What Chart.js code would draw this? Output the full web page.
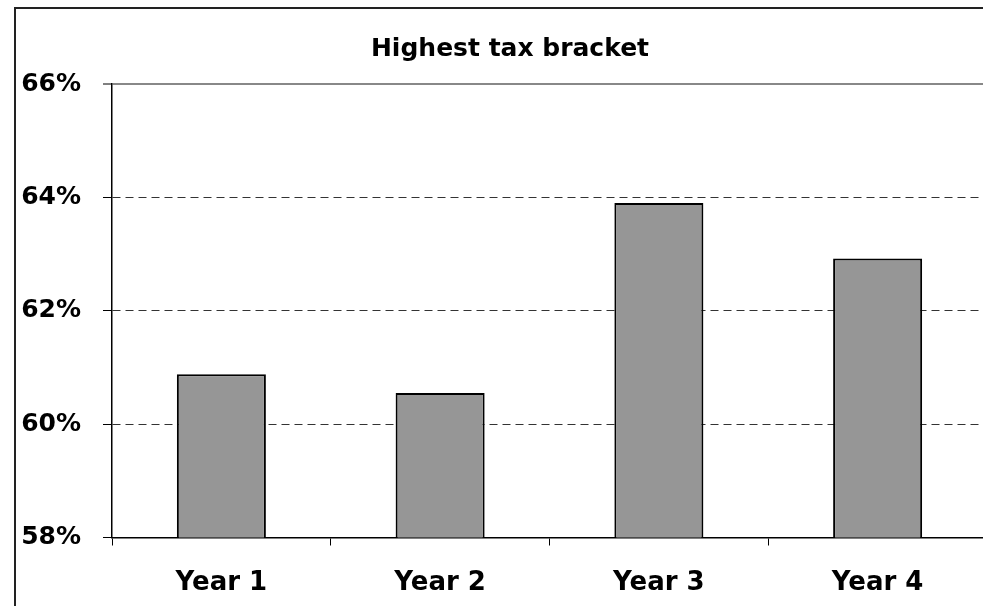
<!DOCTYPE html>
<html>
<head>
<meta charset="utf-8">
<script src="https://cdn.jsdelivr.net/npm/chart.js@4/dist/chart.umd.min.js"></script>
<style>
    html, body { margin: 0; padding: 0; background: #fff; overflow: hidden; }
    #wrap { position: absolute; left: 0; top: 0; width: 1020px; height: 606px; }
    #frame { position: absolute; left: 14px; top: 7px; width: 1100px; height: 700px;
             border-left: 2px solid #222; border-top: 2px solid #222; }
</style>
</head>
<body>
<div id="wrap"><canvas id="ourChart"></canvas></div>
<div id="frame"></div>
<script>
let labelsNames = ['Year 1', 'Year 2', 'Year 3', 'Year 4'];
let topRate = [60.88, 60.55, 63.9, 62.92];
let yMin = 58;
let yMax = 66;
let yStep = 2;

let ourCanvas = document.getElementById('ourChart');
let textFont = "'DejaVu Sans', sans-serif";

// the % labels sit left of the padding, so widen the y scale's clip box
let wideYLabels = {
    id: 'wideYLabels',
    afterLayout(chart) { chart.scales.y.left = 14; }
};

new Chart(ourCanvas, {
    type: 'bar',
    data: {
        labels: labelsNames,
        datasets: [
            {
                label: 'Highest tax bracket',
                data: topRate,
                backgroundColor: '#969696',
                borderColor: '#000',
                borderWidth: 2,
                categoryPercentage: 1,
                barPercentage: 0.407,
            },
        ]
    },
    options: {
        responsive: true,
        maintainAspectRatio: false,
        animation: false,
        layout: {
            padding: { left: 33, right: 33, top: 0, bottom: 0 }
        },
        scales: {
            x: {
                offset: true,
                afterFit(scale) { scale.height = 68.5; },
                grid: {
                    offset: true,
                    drawOnChartArea: false,
                    drawTicks: true,
                    tickLength: 8,
                    tickColor: '#000',
                    tickWidth: 1,
                },
                border: { color: '#000', width: 1.5 },
                ticks: {
                    padding: 22,
                    color: '#000',
                    font: { family: textFont, size: 26, weight: 'bold' },
                },
            },
            y: {
                min: yMin,
                max: yMax,
                afterFit(scale) { scale.width = 79; },
                grid: {
                    color: (ctx) => {
                        if (ctx.tick.value === yMax) return '#888';
                        if (ctx.tick.value === yMin) return 'rgba(0,0,0,0)';
                        return '#333';
                    },
                    lineWidth: (ctx) => ctx.tick.value === yMax ? 2 : 1,
                    tickLength: 9,
                    tickColor: '#000',
                    tickWidth: 1,
                },
                border: {
                    color: '#000',
                    width: 1.5,
                    dash: (ctx) => (ctx.tick && ctx.tick.value !== yMax) ? [8, 5] : [],
                },
                ticks: {
                    stepSize: yStep,
                    padding: 22,
                    color: '#000',
                    font: { family: textFont, size: 25, weight: 'bold' },
                    callback: (v) => v + '%',
                },
            },
        },
        plugins: {
            legend: { display: false },
            tooltip: { enabled: false },
            title: {
                display: true,
                text: 'Highest tax bracket',
                color: '#000',
                font: { family: textFont, size: 25, weight: 'bold' },
                padding: { top: 34, bottom: 20 },
            },
        },
    },
    plugins: [wideYLabels]
});
</script>
</body>
</html>
